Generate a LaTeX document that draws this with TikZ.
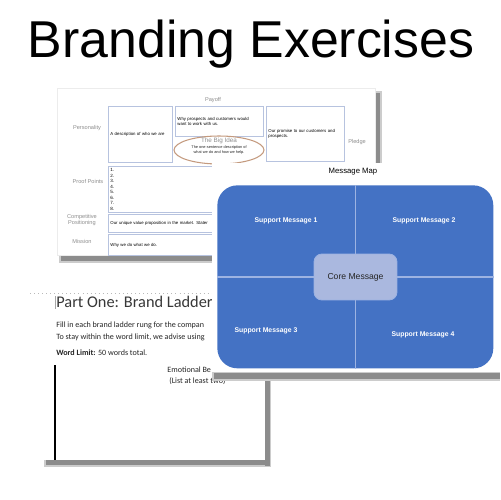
\documentclass[tikz,border=0pt]{standalone}
\usepackage{fontspec}
\setmainfont{Liberation Sans}
\newfontfamily\docfont{Carlito}
\usetikzlibrary{positioning, shapes.geometric}
\definecolor{mapblue}{HTML}{4472C4}
\definecolor{mapcore}{HTML}{AAB8DF}
\definecolor{mapsplit}{HTML}{9DB3E2}
\definecolor{ladderline}{HTML}{B7C3DF}
\definecolor{ideabrown}{HTML}{C49A7E}
\definecolor{labelgray}{HTML}{8E8E8E}
\tikzset{
  ladderbox/.style={draw=ladderline, line width=0.5pt, fill=white, anchor=north west,
    inner xsep=0.04cm, inner ysep=0.3pt, align=left, font=\fontsize{2.45}{3.2}\selectfont},
  ladderlabel/.style={font=\fontsize{3.2}{3.8}\selectfont, text=labelgray, align=center, inner sep=0pt},
  supportmsg/.style={font=\bfseries\fontsize{3.9}{4.5}\selectfont, text=white, inner sep=0pt},
  doctext/.style={font=\docfont\fontsize{4.6}{5.5}\selectfont, text=black!85, anchor=base west, inner sep=0pt},
  shadowbar/.style={fill=black!45, draw=none},
  softbar/.style={fill=black!20, draw=none},
}

\begin{document}
\begin{tikzpicture}[x=0.02cm, y=-0.02cm]
  \useasboundingbox[fill=white] (0,0) rectangle (500,500);
  \node[font=\fontsize{29.5}{32}\selectfont, anchor=base] (title) at (251,58) {Branding Exercises};

  % brand ladder sheet
  \fill[softbar] (59,254) rectangle (382,263);
  \fill[softbar] (374,91) rectangle (382,263);
  \fill[shadowbar] (61,256) rectangle (381,261);
  \fill[shadowbar] (376,93) rectangle (380,261);
  \fill[white, draw=gray!15] (57,88) rectangle (375,255);
  \node[ladderbox, minimum width=1.28cm, minimum height=1.12cm, text width=1.2cm] (personality) at (108,106) {A description of who we are};
  \node[ladderbox, minimum width=1.76cm, minimum height=0.6cm, text width=1.68cm] (payoff) at (175,106) {Why prospects and customers would\\want to work with us.};
  \node[ladderbox, minimum width=1.56cm, minimum height=1.1cm, text width=1.48cm] (pledge) at (266,106) {Our promise to our customers and\\prospects.};
  \node[ladderbox, minimum width=4.74cm, minimum height=0.92cm, text width=4.66cm, font=\fontsize{2.6}{3.17}\selectfont] (proof) at (108,166) {1.\\2.\\3.\\4.\\5.\\6.\\7.\\8.};
  \node[ladderbox, minimum width=4.74cm, minimum height=0.36cm, text width=4.66cm] (compet) at (108,214) {Our unique value proposition in the market. Stater};
  \node[ladderbox, minimum width=4.74cm, minimum height=0.42cm, text width=4.66cm] (mission) at (108,234) {Why we do what we do.};
  \node[ellipse, draw=ideabrown, line width=0.6pt, fill=white, minimum width=1.8cm, minimum height=0.56cm] (idea) at (219,150) {};
  \node[ladderlabel, font=\fontsize{3.6}{4.2}\selectfont] (ideatitle) at (219,141) {The Big Idea};
  \node[ladderlabel, text=black!85, font=\fontsize{2.2}{2.8}\selectfont, below=0.6pt of ideatitle] (ideatext) {The one-sentence description of\\what we do and how we help.};
  \node[ladderlabel] (lpayoff) at (213,100) {Payoff};
  \node[ladderlabel] (lpersonality) at (87,128) {Personality};
  \node[ladderlabel] (lpledge) at (357,142) {Pledge};
  \node[ladderlabel] (lproof) at (88,181) {Proof Points};
  \node[ladderlabel] (lcompet) at (82,220) {Competitive\\Positioning};
  \node[ladderlabel] (lmission) at (82,241) {Mission};

  % brand ladder document
  \fill[softbar] (264,290) rectangle (271,467);
  \fill[softbar] (44,459) rectangle (271,467);
  \fill[shadowbar] (265,292) rectangle (270,466);
  \fill[shadowbar] (46,460) rectangle (270,465);
  \fill[white] (25,288) rectangle (265,460);
  \draw[gray!55, line width=0.4pt, dash pattern=on 0.4pt off 1.9pt] (30,293) -- (212,293);
  \draw[gray!70, line width=0.3pt] (55,296) -- (55,309);
  \node[doctext, font=\docfont\fontsize{9.3}{11}\selectfont, text=black!78] (part) at (56,307.5) {Part One: Brand Ladder};
  \node[doctext] (fill) at (56,327) {Fill in each brand ladder rung for the compan};
  \node[doctext] (stay) at (56,339) {To stay within the word limit, we advise using};
  \node[doctext] (limit) at (56,355) {\textbf{Word Limit:} 50 words total.};
  \node[doctext] (emo) at (167,372) {Emotional Be};
  \node[doctext] (list) at (169,383.5) {(List at least two)};
  \draw[line width=1.5pt] (55,365) -- (55,460);

  % message map
  \fill[softbar] (212,371) rectangle (500,381);
  \fill[shadowbar] (214,373) rectangle (500,379);
  \fill[white] (212,163) rectangle (500,372);
  \node[font=\fontsize{4.4}{5}\selectfont] (maptitle) at (353,172) {Message Map};
  \node[fill=mapblue, rounded corners=0.4cm, anchor=north west, inner sep=0pt,
    minimum width=5.52cm, minimum height=3.66cm] (map) at (217,185) {};
  \node[fill=mapcore, draw=mapsplit, line width=0.5pt, rounded corners=0.16cm,
    minimum width=1.66cm, minimum height=0.92cm, font=\fontsize{4.9}{5.5}\selectfont,
    text=black!85] (core) at (355.5,277) {Core Message};
  \draw[mapsplit, line width=0.7pt] (core.north) -- (core.north |- map.north);
  \draw[mapsplit, line width=0.7pt] (core.south) -- (core.south |- map.south);
  \draw[mapsplit, line width=0.7pt] (core.west) -- (core.west -| map.west);
  \draw[mapsplit, line width=0.7pt] (core.east) -- (core.east -| map.east);
  \node[supportmsg] (sm1) at (286,221) {Support Message 1};
  \node[supportmsg] (sm2) at (424,221) {Support Message 2};
  \node[supportmsg] (sm3) at (266,331) {Support Message 3};
  \node[supportmsg] (sm4) at (423,335) {Support Message 4};
\end{tikzpicture}
\end{document}
